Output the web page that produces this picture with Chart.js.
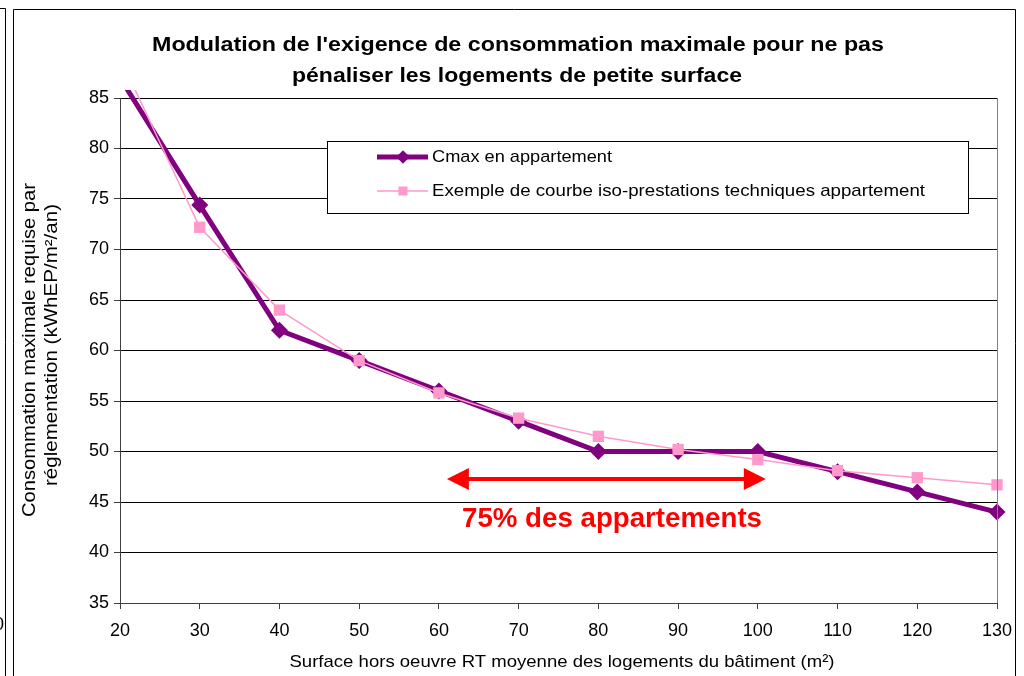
<!DOCTYPE html>
<html>
<head>
<meta charset="utf-8">
<script src="https://cdn.jsdelivr.net/npm/chart.js"></script>
<style>
  html, body { margin: 0; padding: 0; background: #fff; }
  #zone { width: 1024px; height: 676px; }
</style>
</head>
<body>
<div id="zone"><canvas id="graphique" width="1024" height="676"></canvas></div>
<script>
// Données
const surfaces = [20, 30, 40, 50, 60, 70, 80, 90, 100, 110, 120, 130];
const cmaxAppartement = [87, 74.4, 62, 59, 56, 53, 50, 50, 50, 48, 46, 44];
const isoPrestations = [89, 72.2, 64, 59, 55.8, 53.3, 51.5, 50.2, 49.2, 48.1, 47.4, 46.7];
const graduationsX = [20, 30, 40, 50, 60, 70, 80, 90, 100, 110, 120, 130];
const graduationsY = [35, 40, 45, 50, 55, 60, 65, 70, 75, 80, 85];
const nomsSeries = ['Cmax en appartement', 'Exemple de courbe iso-prestations techniques appartement'];
const titre = ["Modulation de l'exigence de consommation maximale pour ne pas", 'pénaliser les logements de petite surface'];
const titreY = ['Consommation maximale requise par', 'réglementation (kWhEP/m²/an)'];
const titreX = 'Surface hors oeuvre RT moyenne des logements du bâtiment (m²)';
// plage "75% des appartements" (en m²)
const plageAppartements = [61, 101];
const texteAppartements = '75% des appartements';

const police = '"Liberation Sans", Arial, sans-serif';
const violet = '#800080';
const rose = '#FF99CC';

function points(valeurs) {
    return surfaces.map((s, i) => ({ x: s, y: valeurs[i] }));
}

// texte étiré horizontalement à une largeur donnée (l'image d'origine est étirée)
function texteAjuste(ctx, texte, x, y, largeur) {
    const mesure = ctx.measureText(texte).width;
    ctx.save();
    ctx.translate(x, y);
    ctx.scale(largeur / mesure, 1);
    ctx.fillText(texte, 0, 0);
    ctx.restore();
}

// cadres, titres, légende et flèche
const habillage = {
    id: 'habillage',
    beforeDraw(chart) {
        const ctx = chart.ctx;
        ctx.save();
        ctx.fillStyle = '#fff';
        ctx.fillRect(0, 0, chart.width, chart.height);
        // bord du graphique voisin
        ctx.strokeStyle = '#000';
        ctx.lineWidth = 1;
        ctx.beginPath();
        ctx.moveTo(0, 8.5); ctx.lineTo(5.5, 8.5); ctx.lineTo(5.5, 676);
        ctx.stroke();
        ctx.fillStyle = '#000';
        ctx.font = '18px ' + police;
        ctx.textBaseline = 'middle';
        ctx.fillText('0', -6, 625);
        // cadre du graphique
        ctx.beginPath();
        ctx.moveTo(13.5, 680); ctx.lineTo(13.5, 9.5); ctx.lineTo(1015.5, 9.5); ctx.lineTo(1015.5, 680);
        ctx.stroke();
        ctx.restore();
    },
    afterDatasetsDraw(chart) {
        const ctx = chart.ctx;
        const area = chart.chartArea;
        const sx = chart.scales.x;
        ctx.save();
        // bord droit de la zone de traçage
        ctx.strokeStyle = '#808080';
        ctx.lineWidth = 1;
        ctx.beginPath();
        ctx.moveTo(Math.round(area.right) + 0.5, area.top);
        ctx.lineTo(Math.round(area.right) + 0.5, area.bottom);
        ctx.stroke();

        // titre
        ctx.fillStyle = '#000';
        ctx.textAlign = 'center';
        ctx.textBaseline = 'middle';
        ctx.font = 'bold 20px ' + police;
        texteAjuste(ctx, titre[0], 518, 45, 732);
        texteAjuste(ctx, titre[1], 517, 76, 450);

        // titre axe X
        ctx.font = '17px ' + police;
        texteAjuste(ctx, titreX, 562, 662, 545);

        // titre axe Y
        ctx.save();
        ctx.translate(30, 350);
        ctx.rotate(-Math.PI / 2);
        ctx.font = '18px ' + police;
        texteAjuste(ctx, titreY[0], 0, 0, 334);
        texteAjuste(ctx, titreY[1], 5, 22, 282);
        ctx.restore();

        // flèche double
        const xa = sx.getPixelForValue(plageAppartements[0]);
        const xb = sx.getPixelForValue(plageAppartements[1]);
        const yf = 479;
        ctx.fillStyle = '#FF0000';
        ctx.strokeStyle = '#FF0000';
        ctx.lineWidth = 4;
        ctx.beginPath();
        ctx.moveTo(xa + 15, yf); ctx.lineTo(xb - 15, yf);
        ctx.stroke();
        ctx.beginPath();
        ctx.moveTo(xa, yf); ctx.lineTo(xa + 22, yf - 11); ctx.lineTo(xa + 22, yf + 11); ctx.closePath();
        ctx.fill();
        ctx.beginPath();
        ctx.moveTo(xb, yf); ctx.lineTo(xb - 22, yf - 11); ctx.lineTo(xb - 22, yf + 11); ctx.closePath();
        ctx.fill();
        ctx.font = 'bold 27px ' + police;
        texteAjuste(ctx, texteAppartements, 612, 520, 300);

        // légende
        const lx = 327.5, ly = 141.5, lw = 641, lh = 72;
        const largeursLegende = [180, 493];
        ctx.fillStyle = '#fff';
        ctx.fillRect(lx, ly, lw, lh);
        ctx.strokeStyle = '#000';
        ctx.lineWidth = 1;
        ctx.strokeRect(lx, ly, lw, lh);
        chart.data.datasets.forEach((ds, i) => {
            const yy = 157 + i * 34;
            ctx.strokeStyle = ds.borderColor;
            ctx.lineWidth = ds.borderWidth;
            ctx.beginPath();
            ctx.moveTo(377, yy); ctx.lineTo(428, yy);
            ctx.stroke();
            ctx.fillStyle = ds.pointBackgroundColor;
            const r = ds.pointRadius * 0.8;
            ctx.beginPath();
            if (ds.pointStyle === 'rectRot') {
                ctx.moveTo(403, yy - r); ctx.lineTo(403 + r, yy); ctx.lineTo(403, yy + r); ctx.lineTo(403 - r, yy);
                ctx.closePath();
            } else {
                const c = r * Math.SQRT1_2;
                ctx.rect(403 - c, yy - c, 2 * c, 2 * c);
            }
            ctx.fill();
            ctx.fillStyle = '#000';
            ctx.textAlign = 'left';
            ctx.font = '17px ' + police;
            texteAjuste(ctx, ds.label, 432, yy, largeursLegende[i]);
        });
        ctx.restore();
    }
};

new Chart(document.getElementById('graphique').getContext('2d'), {
    type: 'line',
    data: {
        datasets: [{
            label: nomsSeries[0],
            data: points(cmaxAppartement),
            borderColor: violet,
            backgroundColor: violet,
            pointBackgroundColor: violet,
            pointBorderColor: violet,
            borderWidth: 5,
            pointStyle: 'rectRot',
            pointRadius: 8.5,
            pointBorderWidth: 0,
            tension: 0,
            clip: { left: 10, top: 8, right: 12, bottom: 10 },
            order: 1
        }, {
            label: nomsSeries[1],
            data: points(isoPrestations),
            borderColor: rose,
            backgroundColor: rose,
            pointBackgroundColor: rose,
            pointBorderColor: rose,
            borderWidth: 1.5,
            pointStyle: 'rect',
            pointRadius: 8,
            pointBorderWidth: 0,
            tension: 0,
            clip: { left: 10, top: 8, right: 12, bottom: 10 },
            order: 0
        }]
    },
    options: {
        responsive: false,
        animation: false,
        devicePixelRatio: 1,
        layout: { padding: { left: 0, top: 98, right: 27, bottom: 0 } },
        plugins: {
            legend: { display: false },
            title: { display: false },
            tooltip: { enabled: false }
        },
        scales: {
            x: {
                type: 'linear',
                min: graduationsX[0],
                max: graduationsX[graduationsX.length - 1],
                afterBuildTicks: (axe) => { axe.ticks = graduationsX.map(v => ({ value: v })); },
                afterFit: (axe) => { axe.height = 73; },
                grid: { drawOnChartArea: false, color: '#404040', tickLength: 6 },
                border: { color: '#404040', width: 1 },
                ticks: { color: '#000', font: { family: police, size: 18 }, padding: 11, maxRotation: 0 }
            },
            y: {
                min: graduationsY[0],
                max: graduationsY[graduationsY.length - 1],
                afterBuildTicks: (axe) => { axe.ticks = graduationsY.map(v => ({ value: v })); },
                afterFit: (axe) => { axe.width = 120; },
                grid: { color: '#000', tickLength: 6, tickColor: '#404040' },
                border: { color: '#404040', width: 1 },
                ticks: { color: '#000', font: { family: police, size: 18 }, padding: 5 }
            }
        }
    },
    plugins: [habillage]
});
</script>
</body>
</html>
